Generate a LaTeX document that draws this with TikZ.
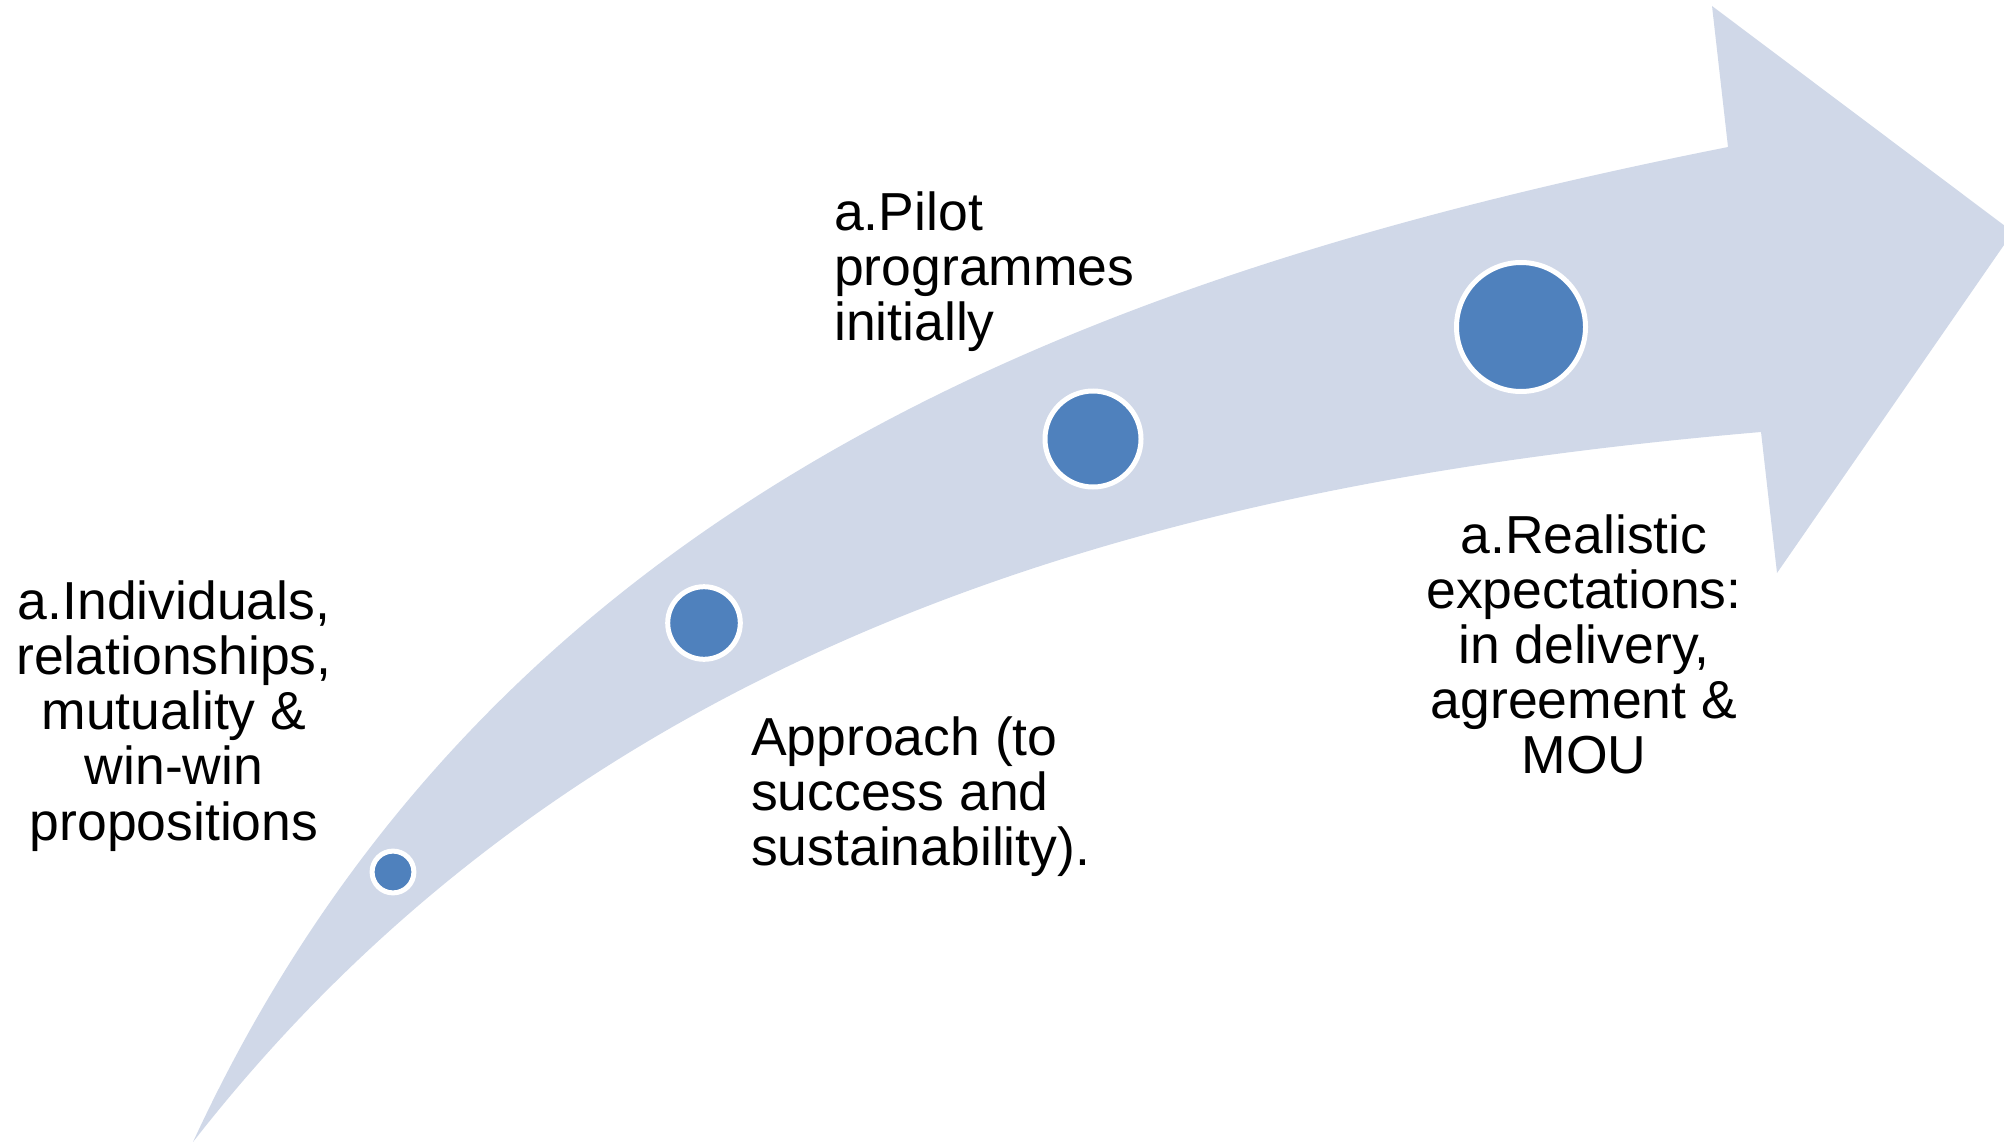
\documentclass[tikz,border=0pt]{standalone}
\usepackage{fontspec}
\setmainfont{Liberation Sans}
\definecolor{band}{HTML}{D0D8E8}
\definecolor{dot}{HTML}{4F81BD}
\begin{document}
\begin{tikzpicture}[x=1pt,y=-1pt,
  dotnode/.style={circle, fill=dot, draw=white, line width=5pt, inner sep=0pt},
  lbl/.style={inner sep=0pt, anchor=base, font=\fontsize{53.5}{55}\selectfont}]
\useasboundingbox (0,0) rectangle (2004,1142);
\clip (0,0) rectangle (2004,1142);
% curved arrow band
\fill[band] (193,1142) .. controls (493,492) and (1100,272) .. (1728,147)
  -- (1712,6) -- (2013,232) -- (1777,573) -- (1761,432)
  .. controls (1200,480) and (600,620) .. (193,1142) -- cycle;
% milestone dots
\node[dotnode, minimum size=41.8pt] (c1) at (393,872) {};
\node[dotnode, minimum size=72.6pt] (c2) at (704,623) {};
\node[dotnode, minimum size=96pt]   (c3) at (1093,439) {};
\node[dotnode, minimum size=129pt]  (c4) at (1521,327) {};
% labels
\node[lbl] (t1) at (174,619) {\begin{tabular}[t]{@{}c@{}}a.Individuals,\\relationships,\\mutuality \&\\win-win\\propositions\end{tabular}};
\node[lbl, anchor=base west] (t2) at (751,755) {\begin{tabular}[t]{@{}l@{}}Approach (to\\success and\\sustainability).\end{tabular}};
\node[lbl, anchor=base west] (t3) at (834,230) {\begin{tabular}[t]{@{}l@{}}a.Pilot\\programmes\\initially\end{tabular}};
\node[lbl] (t4) at (1584,553) {\begin{tabular}[t]{@{}c@{}}a.Realistic\\expectations:\\in delivery,\\agreement \&\\MOU\end{tabular}};
\end{tikzpicture}
\end{document}
